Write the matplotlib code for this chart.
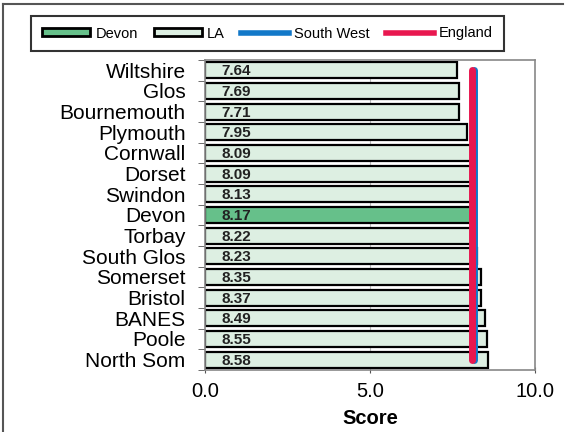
import numpy as np
import matplotlib
matplotlib.use('Agg')
import matplotlib.pyplot as plt
from matplotlib.patches import Patch
from matplotlib.lines import Line2D

plt.rcParams['font.family'] = ['Liberation Sans', 'DejaVu Sans']

# data
areas = ['Wiltshire', 'Glos', 'Bournemouth', 'Plymouth', 'Cornwall', 'Dorset', 'Swindon',
         'Devon', 'Torbay', 'South Glos', 'Somerset', 'Bristol', 'BANES', 'Poole', 'North Som']
scores = [7.64, 7.69, 7.71, 7.95, 8.09, 8.09, 8.13, 8.17, 8.22, 8.23, 8.35, 8.37, 8.49, 8.55, 8.58]
south_west = 8.15
england = 8.10
highlight = 'Devon'

col_devon = '#66c08a'
col_la = '#ddefe2'
col_sw = '#1278c8'
col_eng = '#e8174f'

fig = plt.figure(figsize=(5.69, 4.32), dpi=100)
ax = fig.add_axes([205/569, 1-370/432, 330/569, 310/432])

ypos = np.arange(len(areas))
colors = [col_devon if a == highlight else col_la for a in areas]
ax.barh(ypos, scores, height=0.78, color=colors, edgecolor='black', linewidth=1.6, zorder=2)

for y, v in zip(ypos, scores):
    ax.text(0.5, y + 0.05, '%.2f' % v, ha='left', va='center', fontsize=11,
            fontweight='bold', color='#222222', zorder=4)

# reference lines, centre of first bar to centre of last bar
ax.plot([south_west, south_west], [0, len(areas)-1], color=col_sw, lw=5,
        solid_capstyle='round', zorder=3)
ax.plot([england, england], [0, len(areas)-1], color=col_eng, lw=5,
        solid_capstyle='round', zorder=3)

ax.set_xlim(0, 10)
ax.set_ylim(len(areas)-0.5, -0.5)
ax.set_xticks([0, 5, 10])
ax.set_xticklabels(['0.0', '5.0', '10.0'], fontsize=14.5)
ax.set_yticks(ypos)
ax.set_yticklabels(areas, fontsize=15)
ax.tick_params(axis='y', length=0, pad=14)
ax.set_yticks(np.arange(-0.5, len(areas)), minor=True)
ax.tick_params(axis='y', which='minor', length=5, color='#555555')
ax.tick_params(axis='x', length=5, direction='inout', color='#555555', pad=6)
ax.axvline(5, color='#bbbbbb', lw=0.8, zorder=1)
for s in ax.spines.values():
    s.set_color('#888888')
    s.set_linewidth(1.2)
ax.set_xlabel('Score', fontsize=14.5, fontweight='bold', labelpad=6)

handles = [Patch(facecolor=col_devon, edgecolor='black', linewidth=2),
           Patch(facecolor=col_la, edgecolor='black', linewidth=2),
           Line2D([], [], color=col_sw, lw=4),
           Line2D([], [], color=col_eng, lw=4)]
leg = fig.legend(handles, ['Devon', 'LA', 'South West', 'England'], loc='center',
                 bbox_to_anchor=(267.5/569, 1-33.5/432), ncol=4, fontsize=10.5,
                 frameon=True, fancybox=False, edgecolor='black', handlelength=3.3,
                 handleheight=0.5, handletextpad=0.35, columnspacing=1.1,
                 borderpad=0.75, borderaxespad=0)
leg.get_frame().set_linewidth(1.5)

# outer chart frame (left and top visible)
fig.add_artist(Line2D([3/569, 3/569], [0, 1-4/432], color='#555555', lw=1.5))
fig.add_artist(Line2D([3/569, 563/569], [1-4/432, 1-4/432], color='#555555', lw=1.5))

fig.savefig('out.png', dpi=100)
